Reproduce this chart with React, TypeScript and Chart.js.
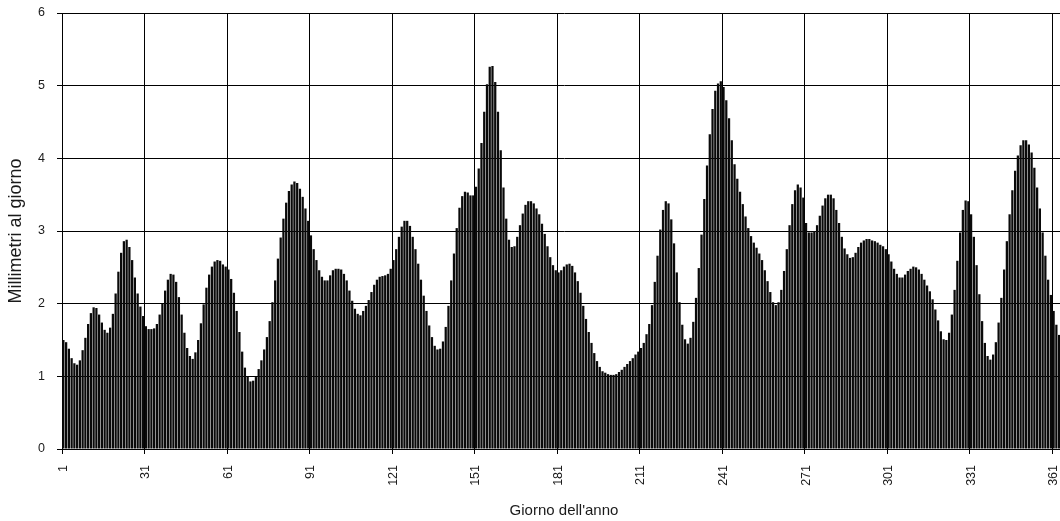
import React, { useEffect, useRef } from 'react';
import { Chart, registerables } from 'chart.js';

Chart.register(...registerables);

// Day of year categories (1..365) and the tick labels shown every 30 days
const days: number[] = Array.from({ length: 365 }, (_, i) => i + 1);
const tickLabels: string[] = days.map((d) => ((d - 1) % 30 === 0 ? String(d) : ''));

// Millimetres per day
const rainfallJanMar: number[] = [
  1.50, 1.47, 1.38, 1.25, 1.18, 1.16, 1.22, 1.36, 1.53, 1.72,
  1.87, 1.95, 1.94, 1.85, 1.74, 1.64, 1.60, 1.67, 1.86, 2.14,
  2.44, 2.70, 2.86, 2.88, 2.78, 2.60, 2.36, 2.14, 1.96, 1.83,
  1.69, 1.65, 1.65, 1.66, 1.72, 1.85, 2.00, 2.18, 2.33, 2.41,
  2.40, 2.30, 2.09, 1.85, 1.60, 1.39, 1.28, 1.24, 1.33, 1.50,
  1.73, 1.99, 2.22, 2.40, 2.51, 2.58, 2.60, 2.59, 2.54, 2.51,
  2.47, 2.34, 2.15, 1.90, 1.61, 1.34, 1.12, 1.00, 0.93, 0.94,
  0.99, 1.10, 1.22, 1.37, 1.54, 1.76, 2.02, 2.32, 2.62, 2.91,
  3.17, 3.39, 3.55, 3.64, 3.68, 3.66, 3.58, 3.47, 3.31, 3.14,
];
const rainfallAprJun: number[] = [
  2.94, 2.75, 2.60, 2.46, 2.37, 2.32, 2.32, 2.39, 2.46, 2.48,
  2.48, 2.47, 2.41, 2.32, 2.18, 2.04, 1.93, 1.86, 1.84, 1.90,
  1.97, 2.05, 2.16, 2.26, 2.33, 2.37, 2.38, 2.39, 2.41, 2.48,
  2.60, 2.75, 2.92, 3.06, 3.14, 3.14, 3.07, 2.92, 2.75, 2.55,
  2.33, 2.11, 1.90, 1.70, 1.54, 1.42, 1.37, 1.38, 1.48, 1.68,
  1.97, 2.32, 2.69, 3.04, 3.32, 3.48, 3.54, 3.53, 3.49, 3.49,
  3.61, 3.86, 4.21, 4.64, 5.02, 5.26, 5.27, 5.05, 4.64, 4.11,
  3.60, 3.17, 2.88, 2.78, 2.79, 2.92, 3.08, 3.24, 3.36, 3.41,
  3.41, 3.38, 3.31, 3.23, 3.10, 2.96, 2.79, 2.64, 2.53, 2.46,
];
const rainfallJulSep: number[] = [
  2.43, 2.46, 2.51, 2.54, 2.55, 2.52, 2.43, 2.31, 2.15, 1.97,
  1.79, 1.61, 1.46, 1.32, 1.21, 1.13, 1.07, 1.05, 1.03, 1.02,
  1.02, 1.03, 1.06, 1.09, 1.13, 1.17, 1.21, 1.25, 1.30, 1.34,
  1.39, 1.46, 1.58, 1.72, 1.98, 2.30, 2.66, 3.02, 3.29, 3.41,
  3.38, 3.16, 2.83, 2.43, 2.02, 1.71, 1.51, 1.45, 1.53, 1.75,
  2.08, 2.49, 2.95, 3.44, 3.90, 4.33, 4.68, 4.93, 5.03, 5.06,
  4.98, 4.80, 4.55, 4.25, 3.92, 3.72, 3.54, 3.37, 3.20, 3.04,
  2.93, 2.84, 2.77, 2.69, 2.60, 2.46, 2.31, 2.16, 2.02, 1.98,
  2.02, 2.19, 2.45, 2.75, 3.08, 3.37, 3.56, 3.64, 3.60, 3.46,
];
const rainfallOctDec: number[] = [
  3.11, 2.98, 2.98, 3.00, 3.08, 3.21, 3.35, 3.45, 3.50, 3.50,
  3.45, 3.29, 3.11, 2.92, 2.76, 2.68, 2.63, 2.64, 2.70, 2.78,
  2.84, 2.87, 2.89, 2.89, 2.87, 2.86, 2.84, 2.81, 2.79, 2.75,
  2.68, 2.58, 2.48, 2.41, 2.36, 2.36, 2.40, 2.45, 2.48, 2.51,
  2.50, 2.47, 2.41, 2.33, 2.25, 2.17, 2.06, 1.92, 1.77, 1.62,
  1.51, 1.50, 1.60, 1.85, 2.19, 2.59, 2.98, 3.29, 3.42, 3.41,
  3.23, 2.92, 2.53, 2.13, 1.76, 1.46, 1.28, 1.23, 1.30, 1.47,
  1.74, 2.08, 2.47, 2.86, 3.23, 3.56, 3.83, 4.04, 4.18, 4.25,
  4.25, 4.19, 4.08, 3.87, 3.60, 3.31, 2.98, 2.66, 2.33, 2.12,
  1.90, 1.71, 1.57, 1.50, 1.48,
];
const rainfall: number[] = [...rainfallJanMar, ...rainfallAprJun, ...rainfallJulSep, ...rainfallOctDec];

const yMin = 0;
const yMax = 6;
const yStep = 1;
const xTitle = "Giorno dell'anno";
const yTitle = 'Millimetri al giorno';

const FONT = '"Liberation Sans", Arial, Helvetica, sans-serif';
const TEXT = '#1a1a1a';

export default function App() {
  const ref = useRef<HTMLCanvasElement>(null);

  useEffect(() => {
    const canvas = ref.current;
    if (!canvas) return;
    const gridColor = (c: any) => (c.index % 30 === 0 ? '#000000' : 'rgba(0,0,0,0)');
    const chart = new Chart(canvas, {
      type: 'bar',
      data: {
        labels: tickLabels,
        datasets: [
          {
            data: rainfall,
            backgroundColor: '#0a0a0a',
            borderWidth: 0,
            barPercentage: 0.82,
            categoryPercentage: 1,
          },
        ],
      },
      options: {
        responsive: false,
        animation: false,
        devicePixelRatio: 1,
        layout: { padding: { left: 0, top: 13, right: 14, bottom: 0 } },
        plugins: {
          legend: { display: false },
          tooltip: { enabled: false },
        },
        scales: {
          x: {
            grid: {
              offset: true,
              color: gridColor,
              tickColor: gridColor,
              tickLength: 5,
              lineWidth: 1,
            },
            border: { color: '#000000', width: 1 },
            ticks: {
              autoSkip: false,
              minRotation: 90,
              maxRotation: 90,
              padding: 11,
              color: TEXT,
              font: { family: FONT, size: 12.5 },
            },
            title: {
              display: true,
              text: xTitle,
              color: TEXT,
              font: { family: FONT, size: 15 },
              padding: { top: 0, bottom: 1 },
            },
            afterFit: (s: any) => {
              s.height = 72;
              s.paddingLeft = 0;
              s.paddingRight = 0;
            },
          },
          y: {
            min: yMin,
            max: yMax,
            grid: { color: '#000000', tickColor: '#000000', tickLength: 5, lineWidth: 1 },
            border: { color: '#000000', width: 1 },
            ticks: {
              stepSize: yStep,
              padding: 12,
              color: TEXT,
              font: { family: FONT, size: 12.5 },
            },
            title: {
              display: true,
              text: yTitle,
              color: TEXT,
              font: { family: FONT, size: 18 },
              padding: { top: 5, bottom: 0 },
            },
            afterFit: (s: any) => {
              s.width = 62;
              s.paddingTop = 0;
              s.paddingBottom = 0;
            },
          },
        },
      },
    });
    return () => chart.destroy();
  }, []);

  return (
    <div
      style={{
        position: 'fixed',
        left: 0,
        top: 0,
        width: 1060,
        height: 521,
        overflow: 'hidden',
        background: '#ffffff',
      }}
    >
      <canvas ref={ref} width={1080} height={521} style={{ display: 'block' }} />
    </div>
  );
}
